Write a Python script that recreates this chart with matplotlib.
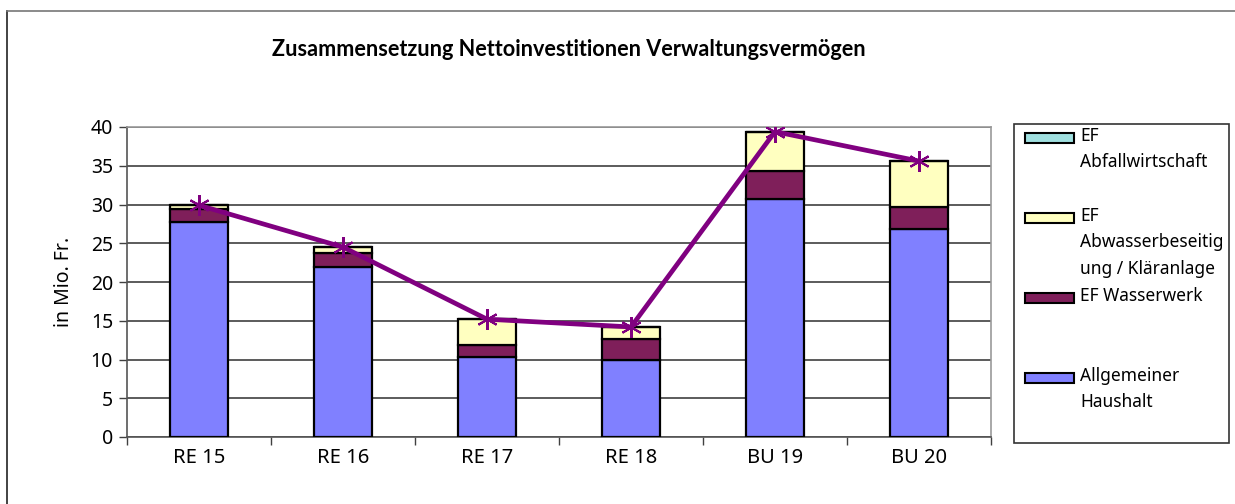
import matplotlib.pyplot as plt
from matplotlib.patches import Rectangle
from matplotlib.lines import Line2D
import numpy as np

# values in Mio. Fr.
categories = ["RE 15", "RE 16", "RE 17", "RE 18", "BU 19", "BU 20"]
allgemein = [27.8, 22.0, 10.3, 9.9, 30.7, 26.9]
wasserwerk = [1.6, 1.7, 1.6, 2.8, 3.6, 2.8]
abwasser = [0.5, 0.8, 3.3, 1.5, 5.1, 5.9]
abfall = [0.0, 0.0, 0.0, 0.0, 0.0, 0.0]
total = [29.9, 24.5, 15.2, 14.2, 39.4, 35.6]

series_labels = ["EF\nAbfallwirtschaft", "EF\nAbwasserbeseitig\nung / Kläranlage",
                 "EF Wasserwerk", "Allgemeiner\nHaushalt"]
c_blue = "#8080FF"
c_purple = "#7F1F5A"
c_yellow = "#FFFFC0"
c_cyan = "#A0E0E0"
c_line = "#800080"

plt.rcParams['font.family'] = ['Noto Sans', 'DejaVu Sans']

W, H = 1235, 504
fig = plt.figure(figsize=(W / 100, H / 100), dpi=100)
ax = fig.add_axes([127 / W, 1 - 437 / H, (991 - 127) / W, (437 - 127) / H])

x = np.arange(len(categories))
bw = 0.4
kw = dict(width=bw, edgecolor="black", linewidth=1.6, zorder=3)
bottom = np.zeros(len(x))
for vals, col in [(allgemein, c_blue), (wasserwerk, c_purple), (abwasser, c_yellow), (abfall, c_cyan)]:
    ax.bar(x, vals, bottom=bottom, color=col, **kw)
    bottom += np.array(vals)

ax.plot(x, total, color=c_line, linewidth=3.4, marker=(6, 2, 0), markersize=15,
        markeredgewidth=1.5, markeredgecolor=c_line, zorder=4)

ax.set_xlim(-0.5, len(x) - 0.5)
ax.set_ylim(0, 40)
ax.set_yticks(range(0, 41, 5))
ax.yaxis.grid(True, color="#404040", linewidth=1.2)
ax.set_axisbelow(True)
ax.set_xticks(x)
ax.set_xticklabels(categories, fontsize=14.5)
ax.set_xticks(np.arange(-0.5, len(x)), minor=True)
ax.tick_params(axis="x", which="major", length=0, pad=8)
ax.tick_params(axis="x", which="minor", length=6, color="#404040", width=1)
ax.tick_params(axis="y", labelsize=14, length=6, color="#404040", width=1, pad=4)
for s in ["top", "right"]:
    ax.spines[s].set_color("#999999")
    ax.spines[s].set_linewidth(1.2)
for s in ["left", "bottom"]:
    ax.spines[s].set_color("#555555")
    ax.spines[s].set_linewidth(1.2)
ax.set_ylabel("in Mio. Fr.", fontsize=14, labelpad=12)

fig.text(569 / W, 1 - 50 / H, "Zusammensetzung Nettoinvestitionen Verwaltungsvermögen",
         ha="center", va="center", fontsize=15.6, fontweight="bold", family=["Lato", "DejaVu Sans"])

# legend drawn by hand to keep Excel's spacing
fig.patches.append(Rectangle((1014 / W, 1 - 443 / H), 215 / W, 319 / H, transform=fig.transFigure,
                             facecolor="white", edgecolor="#333333", linewidth=1.2))
leg_colors = [c_cyan, c_yellow, c_purple, c_blue]
for i, (lab, col) in enumerate(zip(series_labels, leg_colors)):
    yc = 138 + i * 80
    fig.patches.append(Rectangle((1025 / W, 1 - (yc + 5) / H), 49 / W, 10 / H,
                                 transform=fig.transFigure, facecolor=col,
                                 edgecolor="black", linewidth=1.5))
    fig.text(1080 / W, 1 - (yc - 11) / H, lab, ha="left", va="top", fontsize=12.5,
             linespacing=1.6)

# outer chart border (left and top visible)
fig.add_artist(Line2D([6.5 / W, 6.5 / W], [0, 1 - 11 / H], transform=fig.transFigure,
                      color="#222222", linewidth=1.2))
fig.add_artist(Line2D([6.5 / W, 1], [1 - 11 / H, 1 - 11 / H], transform=fig.transFigure,
                      color="#777777", linewidth=1.2))

fig.savefig("out.png", dpi=100)
